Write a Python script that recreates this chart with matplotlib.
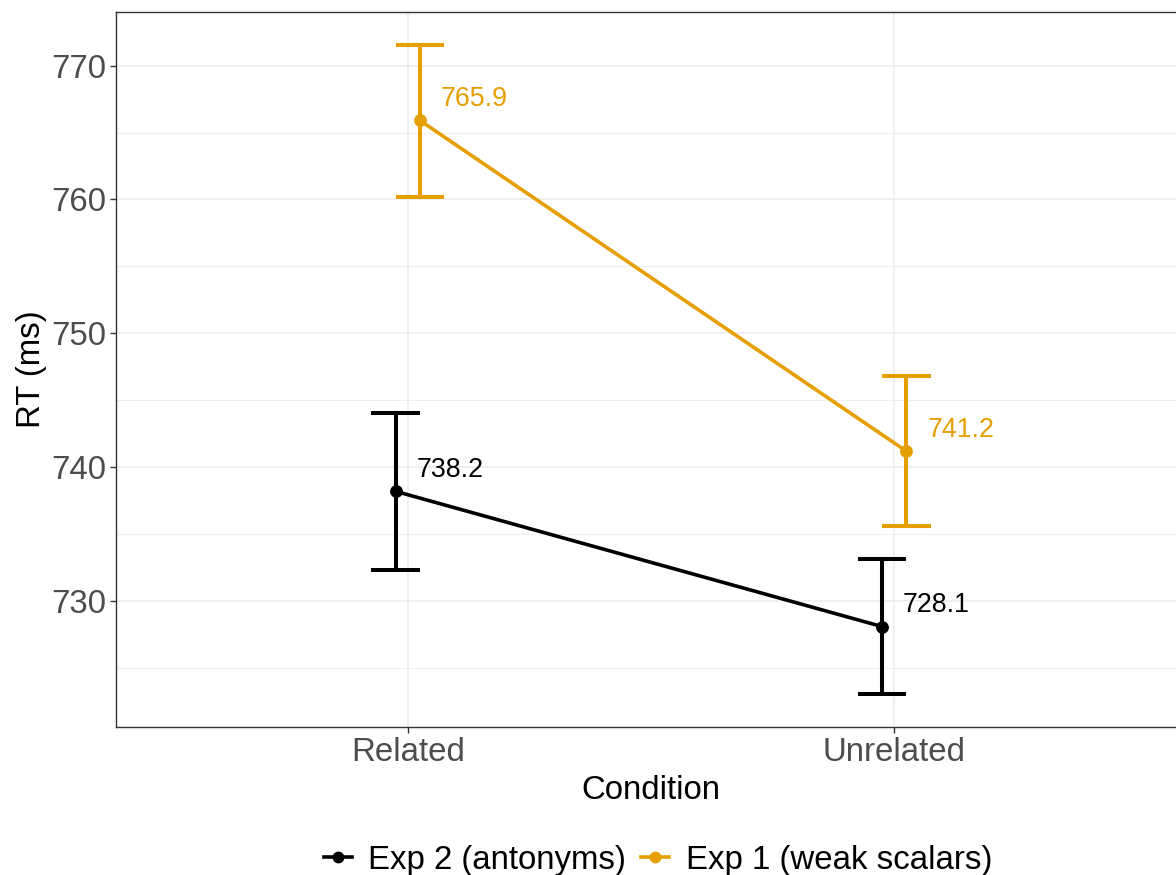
#!/usr/bin/env python3
"""
RT by condition for two experiments: mean point, error bar and value label.
"""

import matplotlib

matplotlib.use("Agg")
import matplotlib.pyplot as plt
from matplotlib.lines import Line2D
from matplotlib.ticker import MultipleLocator

# ---- data ----
conditions = ["Related", "Unrelated"]
series_names = ["Exp 2 (antonyms)", "Exp 1 (weak scalars)"]
series_colors = ["#000000", "#E69F00"]
rt_mean = {
    "Exp 2 (antonyms)": [738.2, 728.1],
    "Exp 1 (weak scalars)": [765.9, 741.2],
}
rt_lower = {
    "Exp 2 (antonyms)": [732.35, 723.05],
    "Exp 1 (weak scalars)": [760.2, 735.6],
}
rt_upper = {
    "Exp 2 (antonyms)": [744.05, 733.15],
    "Exp 1 (weak scalars)": [771.55, 746.8],
}
y_ticks = [730, 740, 750, 760, 770]

plt.rcParams["font.family"] = ["Liberation Sans", "DejaVu Sans"]

W, H = 1176, 875
fig = plt.figure(figsize=(W / 100, H / 100), dpi=100)
# panel runs a little past the right edge, like the reference
ax = fig.add_axes([116 / W, (H - 727) / H, (1186 - 116) / W, (727 - 12) / H])

dodge = [-0.025, 0.025]
base_x = list(range(1, len(conditions) + 1))

for k, name in enumerate(series_names):
    col = series_colors[k]
    xs = [x + dodge[k] for x in base_x]
    m = rt_mean[name]
    lo = rt_lower[name]
    hi = rt_upper[name]
    ax.plot(xs, m, color=col, lw=2.6, zorder=3, solid_capstyle="butt")
    ax.vlines(xs, lo, hi, color=col, lw=2.9, zorder=3)
    for x, a, b in zip(xs, lo, hi):
        ax.hlines([a, b], x - 0.05, x + 0.05, color=col, lw=2.9, zorder=3)
    ax.plot(xs, m, "o", color=col, ms=8.2, zorder=4)
    for x, v in zip(xs, m):
        ax.annotate(f"{v:.1f}", (x, v), xytext=(15, 15.5), textcoords="offset points",
                    ha="left", va="center", color=col, fontsize=19.3)

ax.set_xlim(0.4, 2.6)
ax.set_ylim(720.6, 774.0)
ax.set_xticks(base_x)
ax.set_xticklabels(conditions)
ax.set_yticks(y_ticks)
ax.yaxis.set_minor_locator(MultipleLocator(5))
ax.tick_params(axis="both", which="major", labelsize=23.8, labelcolor="#4D4D4D",
               color="#333333", length=4, width=1.0, pad=3)
ax.tick_params(axis="y", which="minor", length=0)

ax.grid(True, which="major", color="#EBEBEB", lw=1.1, zorder=0)
ax.grid(True, which="minor", axis="y", color="#EBEBEB", lw=0.6, zorder=0)
ax.set_axisbelow(True)
for sp in ax.spines.values():
    sp.set_color("#333333")
    sp.set_linewidth(1.0)

ax.set_xlabel("Condition", fontsize=23.8, labelpad=5)
ax.set_ylabel("RT (ms)", fontsize=23.8, labelpad=3)

handles = [
    Line2D([], [], color=c, lw=2.6, marker="o", ms=7.5) for c in series_colors
]
fig.legend(handles, series_names, loc="center", bbox_to_anchor=(658 / W, (H - 860) / H),
           ncol=2, frameon=False, fontsize=23.8, handlelength=0.85,
           handletextpad=0.5, columnspacing=0.45, borderpad=0, borderaxespad=0)

fig.savefig("out.png", dpi=100)
